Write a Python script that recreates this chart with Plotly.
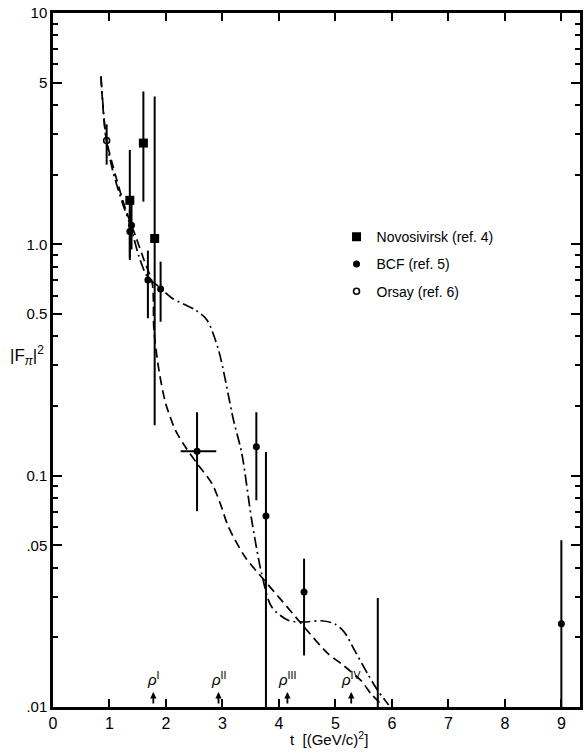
import math
import plotly.graph_objects as go

# ---------------- data ----------------
# Novosibirsk (ref. 4) - filled squares
nov_t = [1.36, 1.60, 1.80]
nov_v = [1.55, 2.74, 1.06]
nov_hi = [2.56, 4.58, 4.36]
nov_lo = [0.856, 1.53, 0.165]

# BCF (ref. 5) - filled circles
bcf_t = [1.39, 1.36, 1.68, 1.905, 2.55, 3.60, 3.77, 4.445, 9.0]
bcf_v = [1.21, 1.135, 0.701, 0.641, 0.1276, 0.1332, 0.067, 0.0314, 0.0229]
bcf_hi = [1.50, 1.42, 0.939, 0.842, 0.188, 0.188, 0.1267, 0.0438, 0.0526]
bcf_lo = [0.95, 0.88, 0.479, 0.463, 0.0702, 0.0783, 0.005, 0.0167, 0.005]
bcf_xerr_plus = [0, 0, 0, 0, 0.34, 0, 0, 0, 0]
bcf_xerr_minus = [0, 0, 0, 0, 0.29, 0, 0, 0, 0]

# BCF upper limit (bar without point)
ul_t = [5.75]
ul_top = [0.0296]

# Orsay (ref. 6) - open circles
ors_t = [0.95]
ors_v = [2.81]
ors_hi = [3.30]
ors_lo = [2.21]

# dashed curve
dash_t = [0.849, 0.937, 1.113, 1.289, 1.465, 1.611, 1.757, 1.787, 1.875,
          1.993, 2.169, 2.345, 2.549, 2.813, 2.961, 3.107, 3.401, 3.741, 4.046,
          4.398, 4.868, 5.102, 5.454, 5.63, 5.836]
dash_v = [5.32, 2.92, 1.96, 1.41, 1.08, 0.856, 0.679, 0.426, 0.286,
          0.206, 0.157, 0.133, 0.113, 0.0925, 0.0758, 0.060, 0.0445, 0.0353, 0.0289,
          0.0229, 0.0170, 0.0154, 0.0130, 0.0114, 0.01016]

# dash-dot curve
dd_t = [0.849, 0.937, 1.053, 1.229, 1.377, 1.523, 1.669, 1.875, 2.109,
        2.521, 2.725, 2.931, 3.195, 3.342, 3.518, 3.694, 3.870, 4.164, 4.428,
        4.75, 4.986, 5.162, 5.338, 5.572, 5.748, 5.942]
dd_v = [5.32, 2.92, 2.10, 1.51, 1.19, 0.885, 0.725, 0.656, 0.585,
        0.520, 0.471, 0.349, 0.174, 0.125, 0.0642, 0.0377, 0.0271, 0.0237, 0.0233,
        0.0236, 0.0229, 0.0210, 0.0176, 0.0139, 0.0118, 0.0102]

# resonance markers
rho_t = [1.776, 2.93, 4.15, 5.28]
rho_labels = ["<i>ρ</i><sup>I</sup>", "<i>ρ</i><sup>II</sup>", "<i>ρ</i><sup>III</sup>", "<i>ρ</i><sup>IV</sup>"]

# axis ticks
x_ticks = [0, 1, 2, 3, 4, 5, 6, 7, 8, 9]
y_tickvals = [0.01, 0.05, 0.1, 0.5, 1.0, 5, 10]
y_ticktext = [".01", ".05", "0.1", "0.5", "1.0", "5", "10"]
y_minor = [0.02, 0.03, 0.04, 0.06, 0.07, 0.08, 0.09,
           0.2, 0.3, 0.4, 0.6, 0.7, 0.8, 0.9,
           2, 3, 4, 6, 7, 8, 9]

# ---------------- figure ----------------
FONT = "Liberation Sans, Arial, sans-serif"
fig = go.Figure()

fig.add_trace(go.Scatter(x=dash_t, y=dash_v, mode="lines", showlegend=False,
                         line=dict(color="black", width=1.7, dash="9px,5px", shape="spline", smoothing=0.8),
                         hoverinfo="skip"))
fig.add_trace(go.Scatter(x=dd_t, y=dd_v, mode="lines", showlegend=False,
                         line=dict(color="black", width=1.7, dash="11px,4px,2px,4px", shape="spline", smoothing=0.8),
                         hoverinfo="skip"))

fig.add_trace(go.Scatter(
    x=nov_t, y=nov_v, mode="markers", name="Novosivirsk (ref. 4)", legendgroup="a",
    marker=dict(symbol="square", size=9, color="black"),
    error_y=dict(type="data", symmetric=False,
                 array=[h - v for h, v in zip(nov_hi, nov_v)],
                 arrayminus=[v - l for v, l in zip(nov_v, nov_lo)],
                 thickness=2, width=0, color="black")))

fig.add_trace(go.Scatter(
    x=bcf_t, y=bcf_v, mode="markers", name="BCF (ref. 5)", legendgroup="b",
    marker=dict(symbol="circle", size=7, color="black"),
    error_y=dict(type="data", symmetric=False,
                 array=[h - v for h, v in zip(bcf_hi, bcf_v)],
                 arrayminus=[v - l for v, l in zip(bcf_v, bcf_lo)],
                 thickness=2, width=0, color="black"),
    error_x=dict(type="data", symmetric=False, array=bcf_xerr_plus,
                 arrayminus=bcf_xerr_minus, thickness=2, width=0, color="black")))

for t, top in zip(ul_t, ul_top):
    fig.add_trace(go.Scatter(x=[t, t], y=[0.01, top], mode="lines", showlegend=False,
                             line=dict(color="black", width=2), hoverinfo="skip"))

fig.add_trace(go.Scatter(
    x=ors_t, y=ors_v, mode="markers", name="Orsay (ref. 6)", legendgroup="c",
    marker=dict(symbol="circle-open", size=6, color="black", line=dict(width=1.6)),
    error_y=dict(type="data", symmetric=False,
                 array=[h - v for h, v in zip(ors_hi, ors_v)],
                 arrayminus=[v - l for v, l in zip(ors_v, ors_lo)],
                 thickness=2, width=0, color="black")))

# resonance arrows and labels
for t, lab in zip(rho_t, rho_labels):
    fig.add_annotation(x=t, y=math.log10(0.0116), xref="x", yref="y", text="",
                       showarrow=True, ax=0, ay=13, arrowhead=2, arrowsize=0.7,
                       arrowwidth=1.8, arrowcolor="black")
    fig.add_annotation(x=t, y=math.log10(0.0133), xref="x", yref="y", text=lab,
                       showarrow=False, font=dict(family=FONT, size=15, color="black"),
                       xanchor="center", yanchor="middle")

# axis titles
fig.add_annotation(x=0.523, y=-0.045, xref="paper", yref="paper",
                   text="t  [(GeV/c)<sup>2</sup>]", showarrow=False,
                   font=dict(family=FONT, size=15, color="black"),
                   xanchor="center", yanchor="middle")
fig.add_annotation(x=-0.05, y=0.507, xref="paper", yref="paper",
                   text="|F<sub><i>π</i></sub>|<sup>2</sup>", showarrow=False,
                   font=dict(family=FONT, size=17, color="black"),
                   xanchor="center", yanchor="middle")

fig.update_layout(
    width=587, height=755,
    margin=dict(l=53, r=4, t=13, b=48),
    paper_bgcolor="white", plot_bgcolor="white",
    font=dict(family=FONT, size=15, color="black"),
    showlegend=True,
    legend=dict(x=0.538, y=0.70, xanchor="left", yanchor="top",
                bgcolor="rgba(0,0,0,0)", font=dict(family=FONT, size=14, color="black"),
                tracegroupgap=6, traceorder="grouped"),
)

fig.update_xaxes(range=[0, 9.33], tickvals=x_ticks, ticktext=[str(v) for v in x_ticks],
                 ticks="inside", ticklen=8, tickwidth=2, tickcolor="black",
                 showline=True, linewidth=2.5, linecolor="black", mirror="ticks",
                 showgrid=False, zeroline=False, tickfont=dict(size=16))
fig.update_yaxes(type="log", range=[-2, 1], tickvals=y_tickvals, ticktext=y_ticktext,
                 ticks="inside", ticklen=9, tickwidth=2, tickcolor="black",
                 minor=dict(tickvals=y_minor, ticks="inside", ticklen=5, tickwidth=1.5, tickcolor="black"),
                 showline=True, linewidth=2.5, linecolor="black", mirror="ticks",
                 showgrid=False, zeroline=False, tickfont=dict(size=15))

fig.write_html("out.html")
